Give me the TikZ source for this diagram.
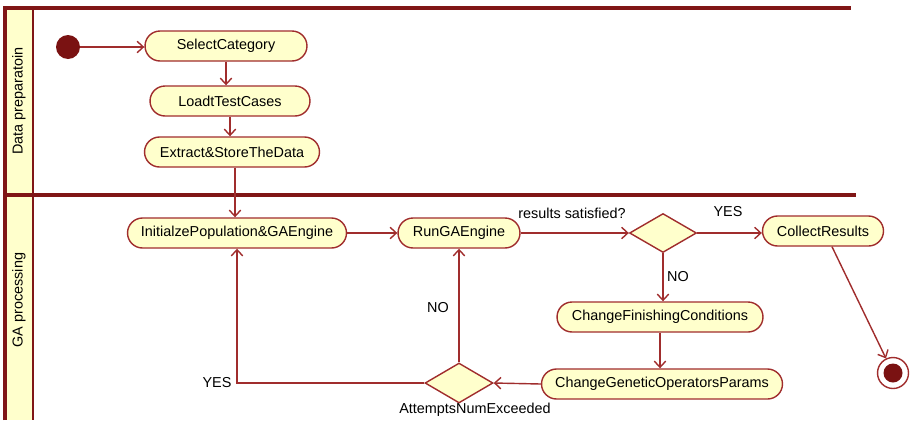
\documentclass[tikz,border=0pt]{standalone}
\usepackage{fontspec}
\setmainfont{Liberation Sans}
\usepackage{tikz}
\usetikzlibrary{calc, positioning, arrows.meta, shapes.misc, shapes.geometric}
\definecolor{laneRed}{RGB}{128, 22, 22}
\definecolor{edgeRed}{RGB}{160, 45, 45}
\definecolor{actFill}{RGB}{255, 255, 204}
\definecolor{dotRed}{RGB}{122, 18, 18}

\begin{document}
\begin{tikzpicture}[x=0.02cm, y=-0.02cm,
    font=\fontsize{8.2}{10}\selectfont,
    >={Straight Barb[length=3.5pt, width=6.5pt]},
    activity/.style={rounded rectangle, draw=edgeRed, fill=actFill, thick,
      minimum height=0.6cm, inner sep=0pt},
    choice/.style={diamond, draw=edgeRed, fill=actFill, thick, inner sep=0pt},
    flow/.style={->, edgeRed, thick},
    lane/.style={laneRed, line width=1.8pt}]
  \useasboundingbox (0,0) rectangle (911,420);

  % Swimlane frame
  \fill[actFill] (5,8) rectangle (33,420);
  \draw[lane] (5,420) -- (5,8) -- (851,8);
  \draw[lane] (5,195) -- (856,195);
  \draw[laneRed, thick] (33,8) -- (33,420);
  \node[rotate=90] (laneA) at (19,101) {Data preparatoin};
  \node[rotate=90] (laneB) at (19,300) {GA processing};

  % Data preparation
  \node[circle, fill=dotRed, minimum size=0.48cm, inner sep=0pt] (start) at (68,47) {};
  \node[activity, minimum width=3.24cm] (sel) at (226,46) {SelectCategory};
  \node[activity, minimum width=3.2cm] (load) at (230,101) {LoadtTestCases};
  \node[activity, minimum width=3.5cm] (ext) at (232,152) {Extract\&StoreTheData};

  % GA processing
  \node[activity, minimum width=4.38cm] (init) at (237,233) {InitialzePopulation\&GAEngine};
  \node[activity, minimum width=2.44cm] (run) at (459,233) {RunGAEngine};
  \node[choice, minimum width=1.34cm, minimum height=0.78cm] (satis) at (663,233) {};
  \node[activity, minimum width=2.42cm] (collect) at (823,231) {CollectResults};
  \node[activity, minimum width=4.12cm] (finish) at (660,317) {ChangeFinishingConditions};
  \node[activity, minimum width=4.82cm] (genop) at (662,384) {ChangeGeneticOperatorsParams};
  \node[choice, minimum width=1.36cm, minimum height=0.8cm] (attempts) at (459,383) {};
  \node[circle, draw=edgeRed, thick, fill=white, minimum size=0.62cm, inner sep=0pt] (stop) at (893,373) {};
  \node[circle, fill=dotRed, minimum size=0.38cm, inner sep=0pt] at (stop) {};

  % Labels
  \node (lblSatis) at (572,213) {results satisfied?};
  \node (lblYesA) at (728,212) {YES};
  \node (lblNoA) at (678,277) {NO};
  \node (lblNoB) at (438,308) {NO};
  \node (lblYesB) at (217,383) {YES};
  \node (lblAtt) at (475,410) {AttemptsNumExceeded};

  % Flows
  \draw[flow] (start.east) -- (start.east -| sel.west);
  \draw[flow] (sel.south) -- (sel.south |- load.north);
  \draw[flow] (load.south) -- (load.south |- ext.north);
  \draw[flow] ([xshift=0.06cm]ext.south) -- ([xshift=0.06cm]ext.south |- init.north);
  \draw[flow] (init.east) -- (run.west);
  \draw[flow] (run.east) -- (satis.west);
  \draw[flow] (satis.east) -- (satis.east -| collect.west);
  \draw[flow] (satis.south) -- (satis.south |- finish.north);
  \draw[flow] ([xshift=0.18cm]collect.south) -- (stop);
  \draw[flow] (finish.south) -- (finish.south |- genop.north);
  \draw[flow] (genop.west) -- (attempts.east);
  \draw[flow] (attempts.north) -- (run.south);
  \draw[flow] (attempts.west) -| (init.south);
\end{tikzpicture}
\end{document}
